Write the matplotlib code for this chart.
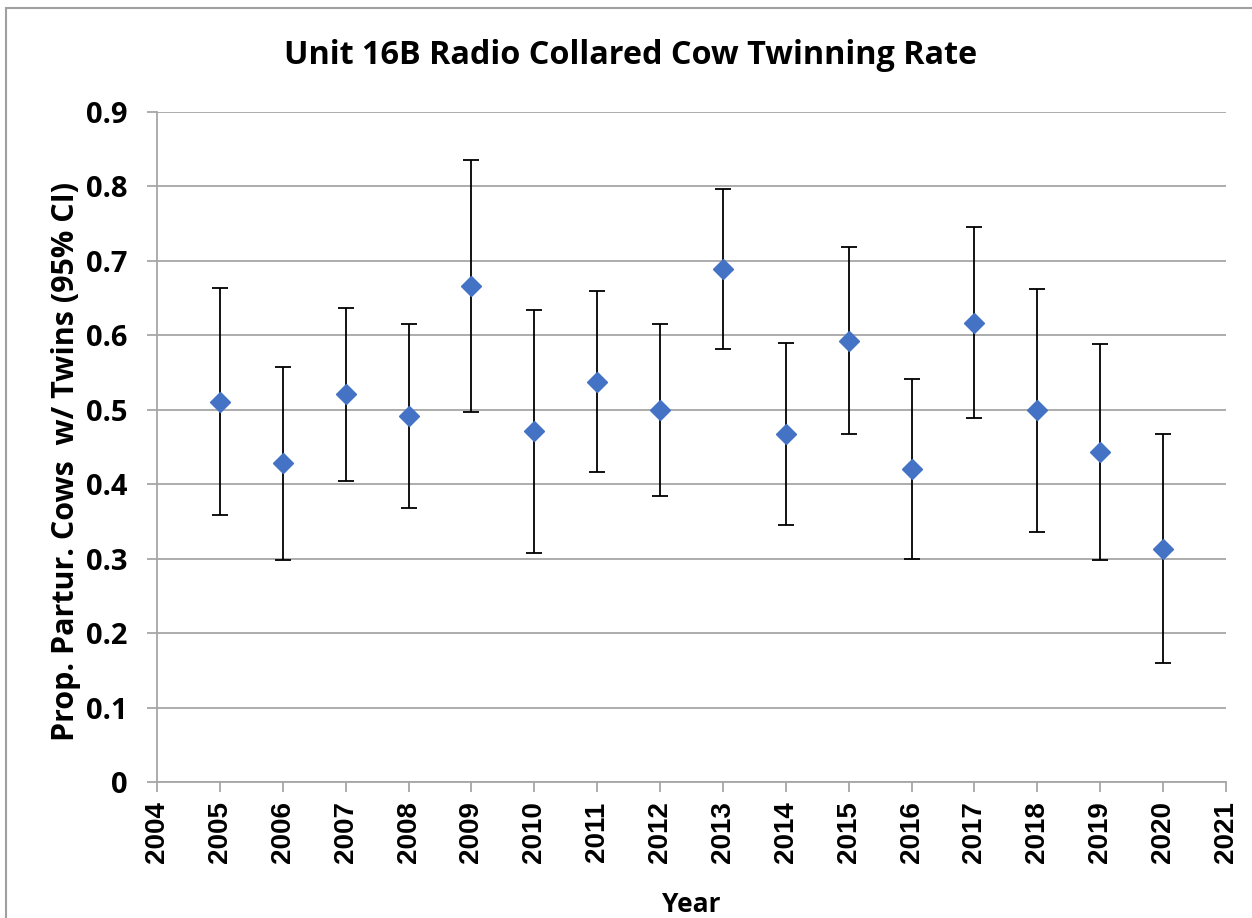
import matplotlib
matplotlib.use("Agg")
import matplotlib.pyplot as plt
from matplotlib.patches import Rectangle

# twinning rate per year with 95% confidence limits
years = [2005, 2006, 2007, 2008, 2009, 2010, 2011, 2012,
         2013, 2014, 2015, 2016, 2017, 2018, 2019, 2020]
rate = [0.511, 0.428, 0.521, 0.491, 0.666, 0.472, 0.537, 0.500,
        0.689, 0.468, 0.593, 0.421, 0.617, 0.500, 0.443, 0.313]
lower = [0.358, 0.298, 0.404, 0.368, 0.497, 0.308, 0.416, 0.384,
         0.582, 0.345, 0.467, 0.300, 0.489, 0.336, 0.298, 0.160]
upper = [0.664, 0.557, 0.637, 0.615, 0.835, 0.634, 0.659, 0.615,
         0.797, 0.590, 0.718, 0.542, 0.746, 0.662, 0.589, 0.467]

xticks = list(range(2004, 2022))
yticks = [0, 0.1, 0.2, 0.3, 0.4, 0.5, 0.6, 0.7, 0.8, 0.9]
ylabels = ["0", "0.1", "0.2", "0.3", "0.4", "0.5", "0.6", "0.7", "0.8", "0.9"]

grey = "#A6A6A6"
font = "Open Sans"

fig = plt.figure(figsize=(12.52, 9.18), dpi=100)
ax = fig.add_axes([157 / 1252, 1 - 782 / 918, (1226 - 157) / 1252, (782 - 112) / 918])

# outer chart border
fig.patches.append(Rectangle((6 / 1252, -0.05), 1.1, 1 - 8 / 918 + 0.05,
                             transform=fig.transFigure, fill=False,
                             edgecolor="#A0A0A0", linewidth=1.5))

err = [[r - l for r, l in zip(rate, lower)], [u - r for r, u in zip(rate, upper)]]
ax.errorbar(years, rate, yerr=err, fmt="none", ecolor="black",
            elinewidth=1.3, capsize=6, capthick=1.3, zorder=3)
ax.plot(years, rate, linestyle="none", marker="D", markersize=10,
        color="#4472C4", zorder=4)

ax.set_xlim(2004, 2021)
ax.set_ylim(0, 0.9)
ax.set_xticks(xticks)
ax.set_xticklabels([str(x) for x in xticks], rotation=90,
                   fontfamily="Liberation Sans", fontweight="bold", fontsize=20)
ax.set_yticks(yticks)
ax.set_yticklabels(ylabels, fontfamily=font, fontweight="bold", fontsize=21)

ax.grid(axis="y", color=grey, linewidth=1.3)
ax.set_axisbelow(True)
for s in ["top", "right"]:
    ax.spines[s].set_visible(False)
for s in ["left", "bottom"]:
    ax.spines[s].set_color(grey)
    ax.spines[s].set_linewidth(1.3)
ax.tick_params(axis="x", length=7, width=1.3, color=grey, pad=7)
ax.tick_params(axis="y", length=7, width=1.3, color=grey, pad=14)

# title is centred on the whole chart, not just the plot area
fig.text(631 / 1252, 1 - 55 / 918, "Unit 16B Radio Collared Cow Twinning Rate",
         fontfamily=font, fontweight="bold", fontsize=23.3, ha="center", va="center")
ax.set_xlabel("Year", fontfamily=font, fontweight="bold", fontsize=19, labelpad=20)
ax.set_ylabel("Prop. Partur. Cows  w/ Twins (95% CI)", fontfamily=font,
              fontweight="bold", fontsize=22)
ax.yaxis.set_label_coords(-0.071, 0.479)

fig.savefig("out.png", dpi=100)
